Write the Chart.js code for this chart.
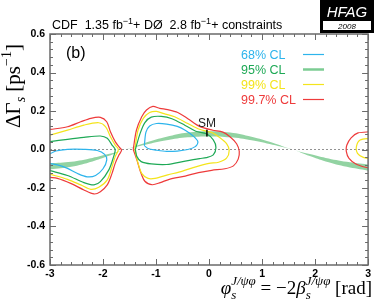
<!DOCTYPE html>
<html lang="en">
<head>
<meta charset="UTF-8">
<title>DeltaGamma_s vs phi_s</title>
<script src="https://cdn.jsdelivr.net/npm/chart.js"></script>
<style>
  body { margin: 0; background: #fff; }
  canvas { display: block; }
</style>
</head>
<body>
<canvas id="dgChart" width="374" height="302"></canvas>
<script>
// axis ticks
const xTicks = [-3, -2, -1, 0, 1, 2, 3];
const yTicks = [-0.6, -0.4, -0.2, 0.0, 0.2, 0.4, 0.6];

// legend
const clLabels = ['68% CL', '95% CL', '99% CL', '99.7% CL'];

// green band, upper and lower edge
const bandX    = [-3, -2.6, -2.2, -1.9, -1.57, -1.2, -0.8, -0.4, 0, 0.4, 0.8, 1.2, 1.57, 1.9, 2.2, 2.6, 3];
const bandHigh = [-0.072, -0.064, -0.044, -0.024, 0.0, 0.035, 0.066, 0.088, 0.095, 0.088, 0.066, 0.035, 0.0, -0.024, -0.044, -0.064, -0.078];
const bandLow  = [-0.104, -0.090, -0.062, -0.034, 0.0, 0.025, 0.048, 0.063, 0.068, 0.063, 0.048, 0.025, 0.0, -0.034, -0.062, -0.090, -0.110];

// contours, [phi_s, dGamma_s]
const cl68Left = [[-3.05,-0.03],[-2.89,-0.008],[-2.67,0.001],[-2.36,0.001],[-2.11,-0.005],[-1.97,-0.025],[-1.93,-0.055],[-2.0,-0.10],[-2.14,-0.135],[-2.30,-0.142],[-2.48,-0.125],[-2.67,-0.098],[-2.86,-0.08],[-3.05,-0.07]];
const cl95Left = [[-3.0,0.041],[-2.67,0.053],[-2.36,0.063],[-2.05,0.070],[-1.92,0.058],[-1.83,0.023],[-1.77,0.0],[-1.80,-0.037],[-1.89,-0.106],[-2.05,-0.167],[-2.17,-0.184],[-2.36,-0.172],[-2.67,-0.135],[-3.0,-0.11]];
const cl99Left = [[-3.0,0.075],[-2.67,0.101],[-2.36,0.127],[-2.08,0.139],[-1.95,0.118],[-1.86,0.066],[-1.77,0.023],[-1.71,0.0],[-1.77,-0.037],[-1.83,-0.089],[-1.92,-0.158],[-2.08,-0.196],[-2.23,-0.207],[-2.42,-0.184],[-2.67,-0.155],[-3.0,-0.128]];
const cl997Left = [[-3.0,0.104],[-2.67,0.118],[-2.42,0.144],[-2.23,0.162],[-2.05,0.167],[-1.93,0.144],[-1.86,0.092],[-1.77,0.041],[-1.69,0.011],[-1.65,-0.004],[-1.70,-0.029],[-1.77,-0.072],[-1.83,-0.124],[-1.92,-0.184],[-2.05,-0.219],[-2.17,-0.231],[-2.36,-0.210],[-2.61,-0.176],[-2.86,-0.150],[-3.0,-0.145]];

const cl68Right = [[-1.22,0.02],[-1.19,0.09],[-1.12,0.122],[-0.99,0.135],[-0.80,0.132],[-0.60,0.12],[-0.45,0.10],[-0.30,0.07],[-0.21,0.04],[-0.26,0.015],[-0.40,0.0],[-0.60,-0.008],[-0.80,-0.01],[-1.00,-0.003],[-1.15,0.005],[-1.22,0.02]];
const cl95Right = [[-1.39,0.0],[-1.30,0.084],[-1.21,0.14],[-1.09,0.168],[-0.90,0.172],[-0.70,0.16],[-0.45,0.125],[-0.25,0.095],[-0.05,0.082],[0.08,0.05],[0.13,0.01],[0.08,-0.028],[-0.05,-0.042],[-0.18,-0.047],[-0.45,-0.06],[-0.80,-0.078],[-1.09,-0.075],[-1.28,-0.063],[-1.36,-0.037],[-1.39,0.0]];
const cl99Right = [[-1.40,0.0],[-1.34,0.10],[-1.24,0.162],[-1.12,0.192],[-0.99,0.198],[-0.85,0.186],[-0.65,0.17],[-0.40,0.135],[-0.18,0.105],[0.05,0.088],[0.20,0.062],[0.33,0.03],[0.38,-0.005],[0.33,-0.045],[0.18,-0.066],[0.0,-0.072],[-0.25,-0.09],[-0.50,-0.112],[-0.78,-0.132],[-1.02,-0.150],[-1.15,-0.150],[-1.27,-0.124],[-1.35,-0.06],[-1.40,0.0]];
const cl997Right = [[-1.43,0.0],[-1.37,0.10],[-1.27,0.17],[-1.18,0.205],[-1.06,0.224],[-0.93,0.214],[-0.78,0.207],[-0.59,0.192],[-0.40,0.16],[-0.18,0.12],[0.07,0.10],[0.26,0.09],[0.40,0.065],[0.52,0.03],[0.57,-0.01],[0.55,-0.05],[0.46,-0.085],[0.30,-0.10],[0.05,-0.108],[-0.2,-0.12],[-0.45,-0.138],[-0.75,-0.155],[-0.92,-0.172],[-1.07,-0.183],[-1.21,-0.165],[-1.30,-0.11],[-1.36,-0.055],[-1.43,0.0]];

const cl99Far = [[3.05,0.058],[2.85,0.049],[2.78,0.015],[2.80,-0.02],[2.91,-0.041],[3.05,-0.048]];
const cl997Far = [[3.05,0.092],[2.81,0.086],[2.68,0.06],[2.60,0.023],[2.59,-0.011],[2.64,-0.046],[2.77,-0.075],[2.95,-0.092],[3.05,-0.095]];

// SM expectation marker and zero line
const smMarker = [[-0.04,0.068],[-0.04,0.103]];
const zeroLine = [[-3,0],[3,0]];

const cyan = '#2db4ec', green = '#1ea956', yellow = '#f4e41c', red = '#ee3b3b', bandColor = '#92d3a2';
const sans = '"Liberation Sans", Arial, sans-serif';
const serif = '"Liberation Serif", "Times New Roman", serif';

const pts = a => a.map(p => ({x: p[0], y: p[1]}));
const curve = (data, color) => ({
    data: pts(data), showLine: true, borderColor: color, borderWidth: 1.2,
    pointRadius: 0, tension: 0.3, fill: false, order: 1
});

function layoutRich(ctx, parts) {
    let x = 0, lastX = 0, lastW = 0;
    const items = [];
    for (const p of parts) {
        ctx.font = p.f;
        const w = ctx.measureText(p.t).width;
        if (p.stack) {
            items.push(Object.assign({}, p, {x: lastX}));
            lastW = Math.max(lastW, w);
            x = lastX + lastW;
        } else {
            items.push(Object.assign({}, p, {x: x}));
            lastX = x; lastW = w;
            x += w;
        }
    }
    return {items: items, width: x};
}
function drawRich(ctx, parts, x0, y0) {
    const L = layoutRich(ctx, parts);
    L.items.forEach(it => { ctx.font = it.f; ctx.fillText(it.t, x0 + it.x, y0 + (it.dy || 0)); });
    return L.width;
}

const decor = {
    id: 'decor',
    afterDraw(chart) {
        const ctx = chart.ctx;
        const {left, right, top, bottom} = chart.chartArea;
        const xs = chart.scales.x, ys = chart.scales.y;
        ctx.save();

        // frame and inward ticks
        ctx.strokeStyle = '#6a6a6a';
        ctx.lineWidth = 1.5;
        ctx.strokeRect(left, top, right - left, bottom - top);
        ctx.lineWidth = 1;
        ctx.beginPath();
        for (let i = 0; i <= 30; i++) {
            const px = Math.round(xs.getPixelForValue(-3 + i * 0.2)) + 0.5;
            const len = i % 5 === 0 ? 6 : 3;
            ctx.moveTo(px, bottom); ctx.lineTo(px, bottom - len);
            ctx.moveTo(px, top); ctx.lineTo(px, top + len);
        }
        for (let i = 0; i <= 30; i++) {
            const py = Math.round(ys.getPixelForValue(-0.6 + i * 0.04)) + 0.5;
            const len = i % 5 === 0 ? 6 : 3;
            ctx.moveTo(left, py); ctx.lineTo(left + len, py);
            ctx.moveTo(right, py); ctx.lineTo(right - len, py);
        }
        ctx.stroke();

        ctx.fillStyle = '#000';
        ctx.textBaseline = 'alphabetic';
        ctx.textAlign = 'left';

        // header
        const hf = '12.5px ' + sans, hs = '9px ' + sans;
        drawRich(ctx, [
            {t: 'CDF  1.35 fb', f: hf}, {t: '\u22121', f: hs, dy: -5},
            {t: '+ D\u00d8  2.8 fb', f: hf}, {t: '\u22121', f: hs, dy: -5},
            {t: '+ constraints', f: hf}
        ], 52, 29);

        // HFAG logo
        ctx.fillStyle = '#000';
        ctx.fillRect(320, 0, 54, 33);
        ctx.fillStyle = '#fff';
        ctx.fillRect(323, 21, 48, 9);
        ctx.textAlign = 'center';
        ctx.font = 'italic 15px ' + sans;
        ctx.fillText('HFAG', 347, 17);
        ctx.fillStyle = '#000';
        ctx.font = 'italic 8px ' + sans;
        ctx.fillText('2008', 347, 28.5);

        // panel label
        ctx.textAlign = 'left';
        ctx.font = '16px ' + sans;
        ctx.fillText('(b)', 66, 58);

        // SM label
        ctx.textAlign = 'center';
        ctx.font = '12px ' + sans;
        ctx.fillStyle = '#222';
        ctx.fillText('SM', xs.getPixelForValue(smMarker[0][0]), ys.getPixelForValue(0.115));

        // legend
        const legColors = [cyan, green, yellow, red];
        ctx.textAlign = 'left';
        clLabels.forEach((lab, i) => {
            const cy = 54.5 + i * 15;
            ctx.font = '12.5px ' + sans;
            ctx.fillStyle = legColors[i];
            ctx.fillText(lab, 241, cy + 4.5);
            ctx.strokeStyle = i === 1 ? '#7ccc93' : legColors[i];
            ctx.lineWidth = i === 1 ? 2.5 : 1.2;
            ctx.beginPath();
            ctx.moveTo(303, cy); ctx.lineTo(324, cy);
            ctx.stroke();
        });

        // x axis title
        ctx.fillStyle = '#000';
        const xi = 'italic 19px ' + serif, xr = '19px ' + serif;
        const xsub = 'italic 13px ' + serif, xsup = 'italic 13px ' + serif;
        const xParts = [
            {t: '\u03c6', f: xi}, {t: 's', f: xsub, dy: 5}, {t: 'J/\u03c8\u03c6', f: xsup, dy: -9, stack: true},
            {t: ' = \u22122', f: xr},
            {t: '\u03b2', f: xi}, {t: 's', f: xsub, dy: 5}, {t: 'J/\u03c8\u03c6', f: xsup, dy: -9, stack: true},
            {t: ' [rad]', f: xr}
        ];
        const xw = layoutRich(ctx, xParts).width;
        drawRich(ctx, xParts, 372 - xw, 294);

        // y axis title
        ctx.save();
        ctx.translate(20, 128);
        ctx.rotate(-Math.PI / 2);
        const yr = '21px ' + serif;
        drawRich(ctx, [
            {t: '\u0394\u0393', f: yr}, {t: 's', f: 'italic 14px ' + serif, dy: 5},
            {t: ' [ps', f: yr}, {t: '\u22121', f: '14px ' + serif, dy: -9}, {t: ']', f: yr}
        ], 0, 0);
        ctx.restore();

        ctx.restore();
    }
};

new Chart(document.getElementById('dgChart'), {
    type: 'scatter',
    data: {
        datasets: [
            {data: bandX.map((x, i) => ({x: x, y: bandLow[i]})), showLine: true, borderWidth: 0,
             borderColor: 'rgba(0,0,0,0)', pointRadius: 0, tension: 0.4, fill: false, order: 5},
            {data: bandX.map((x, i) => ({x: x, y: bandHigh[i]})), showLine: true, borderWidth: 0,
             borderColor: 'rgba(0,0,0,0)', backgroundColor: bandColor, pointRadius: 0, tension: 0.4, fill: '-1', order: 5},
            {data: pts(zeroLine), showLine: true, borderColor: '#777', borderWidth: 0.8, borderDash: [2, 2],
             pointRadius: 0, fill: false, order: 4},
            curve(cl68Left, cyan), curve(cl95Left, green), curve(cl99Left, yellow), curve(cl997Left, red),
            curve(cl68Right, cyan), curve(cl95Right, green), curve(cl99Right, yellow), curve(cl997Right, red),
            curve(cl99Far, yellow), curve(cl997Far, red),
            {data: pts(smMarker), showLine: true, borderColor: '#000', borderWidth: 1.5, pointRadius: 0, fill: false, order: 0}
        ]
    },
    options: {
        responsive: false,
        animation: false,
        layout: {padding: {top: 34, right: 4, left: 0, bottom: 0}},
        plugins: {legend: {display: false}, tooltip: {enabled: false}},
        scales: {
            x: {
                type: 'linear', min: -3, max: 3,
                afterFit: s => { s.height = 37; },
                afterBuildTicks: s => { s.ticks = xTicks.map(v => ({value: v})); },
                grid: {display: false, drawTicks: false},
                border: {display: false},
                ticks: {font: {family: sans, size: 10.5, weight: 'bold'}, color: '#000', padding: 3,
                        maxRotation: 0, autoSkip: false, callback: v => String(v)}
            },
            y: {
                type: 'linear', min: -0.6, max: 0.6,
                afterFit: s => { s.width = 50; },
                afterBuildTicks: s => { s.ticks = yTicks.map(v => ({value: v})); },
                grid: {display: false, drawTicks: false},
                border: {display: false},
                ticks: {font: {family: sans, size: 10.5, weight: 'bold'}, color: '#000', padding: 5,
                        autoSkip: false, callback: v => v.toFixed(1)}
            }
        }
    },
    plugins: [decor]
});
</script>
</body>
</html>
